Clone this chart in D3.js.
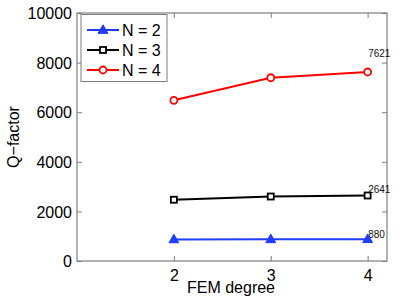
<!DOCTYPE html>
<html><head><meta charset="utf-8">
<script src="https://cdn.jsdelivr.net/npm/d3@7"></script>
<style>body{margin:0;background:#fff}svg{display:block;font-family:"Liberation Sans",Arial,sans-serif}</style>
</head><body><svg id="c" width="399" height="303"></svg>
<script>
const degrees = [2, 3, 4];
const qN2 = [870, 875, 880];
const qN3 = [2470, 2600, 2641];
const qN4 = [6480, 7390, 7621];
const seriesNames = ["N = 2", "N = 3", "N = 4"];
const seriesColors = ["#1f3dff", "#000000", "#ff0000"];
const seriesMarkers = ["triangle", "square", "circle"];
const endLabels = ["880", "2641", "7621"];
const yTicks = [0, 2000, 4000, 6000, 8000, 10000];
const xTicks = [2, 3, 4];

const svg = d3.select("#c");
const L = 77, R = 387, T = 13, B = 261;
const x = d3.scaleLinear().domain([1, 4.2]).range([L, R]);
const y = d3.scaleLinear().domain([0, 10000]).range([B, T]);
const axisCol = "#7f7f7f";

// frame
svg.append("rect").attr("x", L).attr("y", T).attr("width", R - L).attr("height", B - T)
  .attr("fill", "none").attr("stroke", axisCol).attr("stroke-width", 1.2);

const fs = "16px";
const ax = svg.append("g").attr("transform", `translate(0,${B})`)
  .call(d3.axisBottom(x).tickValues(xTicks).tickSize(-5).tickPadding(9).tickFormat(d3.format("d")));
const ay = svg.append("g").attr("transform", `translate(${L},0)`)
  .call(d3.axisLeft(y).tickValues(yTicks).tickSize(-5).tickPadding(5).tickFormat(d3.format("d")));
const at = svg.append("g").attr("transform", `translate(0,${T})`)
  .call(d3.axisTop(x).tickValues(xTicks).tickSize(-5).tickFormat(""));
const ar = svg.append("g").attr("transform", `translate(${R},0)`)
  .call(d3.axisRight(y).tickValues(yTicks).tickSize(-5).tickFormat(""));
[ax, ay, at, ar].forEach(g => {
  g.select(".domain").remove();
  g.selectAll("line").attr("stroke", axisCol);
  g.selectAll("text").attr("fill", "#000").style("font-size", fs).attr("font-family", "Liberation Sans, Arial, sans-serif");
});
ay.selectAll("text").attr("dy", "0.36em");

svg.append("text").attr("x", (L + R) / 2 - 1).attr("y", 293).attr("text-anchor", "middle")
  .style("font-size", fs).text("FEM degree");
svg.append("text").attr("transform", `translate(19,137) rotate(-90)`).attr("text-anchor", "middle")
  .style("font-size", fs).text("Q\u2212factor");

const data = [qN2, qN3, qN4];
const line = d3.line().x((d, i) => x(degrees[i])).y(d => y(d));

function marker(g, type, color, cx, cy) {
  if (type === "triangle") {
    g.append("path").attr("d", d3.symbol(d3.symbolTriangle, 42)()).attr("transform", `translate(${cx},${cy+0.5})`)
      .attr("fill", color).attr("stroke", color).attr("stroke-width", 1);
  } else if (type === "square") {
    g.append("rect").attr("x", cx - 3).attr("y", cy - 3).attr("width", 6).attr("height", 6)
      .attr("fill", "#fff").attr("stroke", color).attr("stroke-width", 1.8);
  } else {
    g.append("circle").attr("cx", cx).attr("cy", cy).attr("r", 3.5)
      .attr("fill", "#fff").attr("stroke", color).attr("stroke-width", 1.8);
  }
}

// end labels
const lblOffsets = [-1.5, -2.5, -15];
data.forEach((vals, s) => {
  const v = vals[vals.length - 1];
  svg.append("text").attr("x", x(degrees[degrees.length - 1]) + 0.5).attr("y", y(v) + lblOffsets[s])
    .style("font-size", "10px").attr("fill", "#111").text(endLabels[s]);
});

data.forEach((vals, s) => {
  const g = svg.append("g");
  g.append("path").attr("d", line(vals)).attr("fill", "none").attr("stroke", seriesColors[s]).attr("stroke-width", 2);
  vals.forEach((v, i) => marker(g, seriesMarkers[s], seriesColors[s], x(degrees[i]), y(v)));
});

// legend
const lg = svg.append("g");
lg.append("rect").attr("x", 81).attr("y", 14.5).attr("width", 86).attr("height", 67)
  .attr("fill", "#fff").attr("stroke", axisCol).attr("stroke-width", 1);
seriesNames.forEach((n, s) => {
  const yy = 30 + s * 20;
  lg.append("line").attr("x1", 87).attr("x2", 119).attr("y1", yy).attr("y2", yy)
    .attr("stroke", seriesColors[s]).attr("stroke-width", 2);
  marker(lg, seriesMarkers[s], seriesColors[s], 103, yy);
  lg.append("text").attr("x", 122).attr("y", yy + 6).style("font-size", fs).text(n);
});
</script></body></html>
